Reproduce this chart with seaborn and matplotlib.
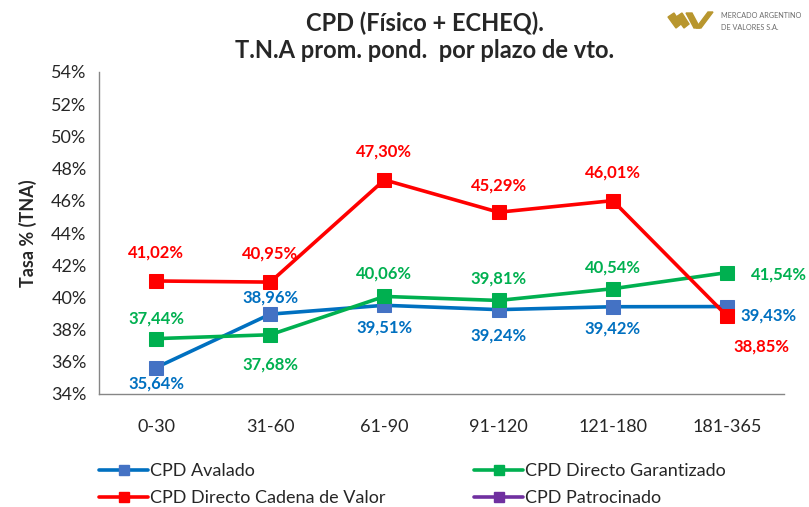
import numpy as np
import pandas as pd
import seaborn as sb
import matplotlib.pyplot as plt
from matplotlib.lines import Line2D
from matplotlib.patches import Polygon
from matplotlib.ticker import FuncFormatter

# datos
plazos = ["0-30", "31-60", "61-90", "91-120", "121-180", "181-365"]
avalado = [35.64, 38.96, 39.51, 39.24, 39.42, 39.43]
garantizado = [37.44, 37.68, 40.06, 39.81, 40.54, 41.54]
cadena_valor = [41.02, 40.95, 47.30, 45.29, 46.01, 38.85]

sb.set_style("white")
plt.rcParams['font.family'] = ['Lato', 'DejaVu Sans']

fig = plt.figure(figsize=(8.09, 5.07), dpi=100)
ax = fig.add_axes([99/809, 1-394/507, 685/809, 322/507])

df = pd.DataFrame({"plazo": plazos, "avalado": avalado,
                   "garantizado": garantizado, "cadena": cadena_valor})

# (columna, color linea, color marcador, color etiqueta, nombre)
series = [
    ("avalado", "#0070C0", "#4472C4", "#0070C0", "CPD Avalado"),
    ("garantizado", "#00B050", "#00B050", "#00B050", "CPD Directo Garantizado"),
    ("cadena", "#FF0000", "#FF0000", "#FF0000", "CPD Directo Cadena de Valor"),
]

# desplazamiento de las etiquetas en pixeles
offsets = {
    "avalado": [(0, -16), (0, 17), (0, -22), (0, -26), (0, -22), (42, -9)],
    "garantizado": [(0, 20), (0, -30), (0, 23), (0, 22), (0, 21), (52, -2)],
    "cadena": [(0, 28), (0, 29), (0, 28), (0, 27), (0, 28), (35, -31)],
}

handles = {}
for col, lc, mc, tc, name in series:
    sb.lineplot(data=df, x="plazo", y=col, sort=False, ax=ax, color=lc, lw=2.6,
                marker="s", markersize=10, markerfacecolor=mc, markeredgecolor=mc,
                legend=False)
    handles[name] = Line2D([], [], color=lc, lw=2.6, marker="s", markersize=7,
                           markerfacecolor=mc, markeredgecolor=mc)
    for i, v in enumerate(df[col]):
        dx, dy = offsets[col][i]
        ax.annotate(f"{v:.2f}%".replace(".", ","), (i, v), xytext=(dx, dy),
                    textcoords="offset pixels", ha="center", va="center",
                    color=tc, fontsize=12, fontweight="bold")

handles["CPD Patrocinado"] = Line2D([], [], color="#7030A0", lw=2.6, marker="s",
                                    markersize=7, markerfacecolor="#7030A0",
                                    markeredgecolor="#7030A0")

ax.set_xlim(-0.5, 5.5)
ax.set_ylim(34, 54)
ax.set_yticks(np.arange(34, 55, 2))
ax.yaxis.set_major_formatter(FuncFormatter(lambda v, p: f"{v:.0f}%"))
ax.set_xticks(range(len(plazos)))
ax.set_xticklabels(plazos)
ax.set_xticks(np.arange(-0.5, 6, 1), minor=True)
ax.tick_params(axis="x", which="major", length=0, pad=18, labelsize=13, labelcolor="#262626")
ax.tick_params(axis="x", which="minor", length=5, color="#868686", direction="out")
ax.tick_params(axis="y", length=5, color="#868686", direction="out", labelsize=13,
               labelcolor="#262626", pad=4)
ax.set_xlabel("")
ax.set_ylabel("Tasa % (TNA)", fontsize=13, fontweight="bold", labelpad=10)
for s in ["top", "right"]:
    ax.spines[s].set_visible(False)
for s in ["left", "bottom"]:
    ax.spines[s].set_color("#868686")
    ax.spines[s].set_linewidth(1)
ax.grid(False)

# leyenda en dos columnas
leg_kw = dict(loc="upper left", frameon=False, fontsize=13, handlelength=2.7,
              handletextpad=0.1, labelspacing=0.6, labelcolor="#262626",
              borderaxespad=0)
fig.legend([handles["CPD Avalado"], handles["CPD Directo Cadena de Valor"]],
           ["CPD Avalado", "CPD Directo Cadena de Valor"],
           bbox_to_anchor=(92/809, 1-456/507), **leg_kw)
fig.legend([handles["CPD Directo Garantizado"], handles["CPD Patrocinado"]],
           ["CPD Directo Garantizado", "CPD Patrocinado"],
           bbox_to_anchor=(467/809, 1-456/507), **leg_kw)

fig.text(425/809, 1-23/507, "CPD (Físico + ECHEQ).", ha="center", va="center",
         fontsize=17, fontweight="bold")
fig.text(425/809, 1-51/507, "T.N.A prom. pond.  por plazo de vto.", ha="center",
         va="center", fontsize=17, fontweight="bold")

# logo MAV
gold = "#B8962E"
def px(x, y):
    return (x/809, 1-y/507)
for pts in [[(668, 17), (674, 13), (681, 24), (676, 28)],
            [(676, 17), (682, 13), (689, 24), (684, 28)],
            [(686, 13), (692, 13), (700, 28), (694, 28)],
            [(696, 28), (701, 28), (713, 12), (708, 12)]]:
    fig.patches.append(Polygon([px(*p) for p in pts], closed=True, color=gold,
                               transform=fig.transFigure))
fig.text(721/809, 1-15/507, "MERCADO ARGENTINO", fontsize=5.2, color="#6b6b6b",
         va="center", ha="left")
fig.text(721/809, 1-27/507, "DE VALORES S.A.", fontsize=5.2, color="#6b6b6b",
         va="center", ha="left")

fig.savefig("out.png", dpi=100)
